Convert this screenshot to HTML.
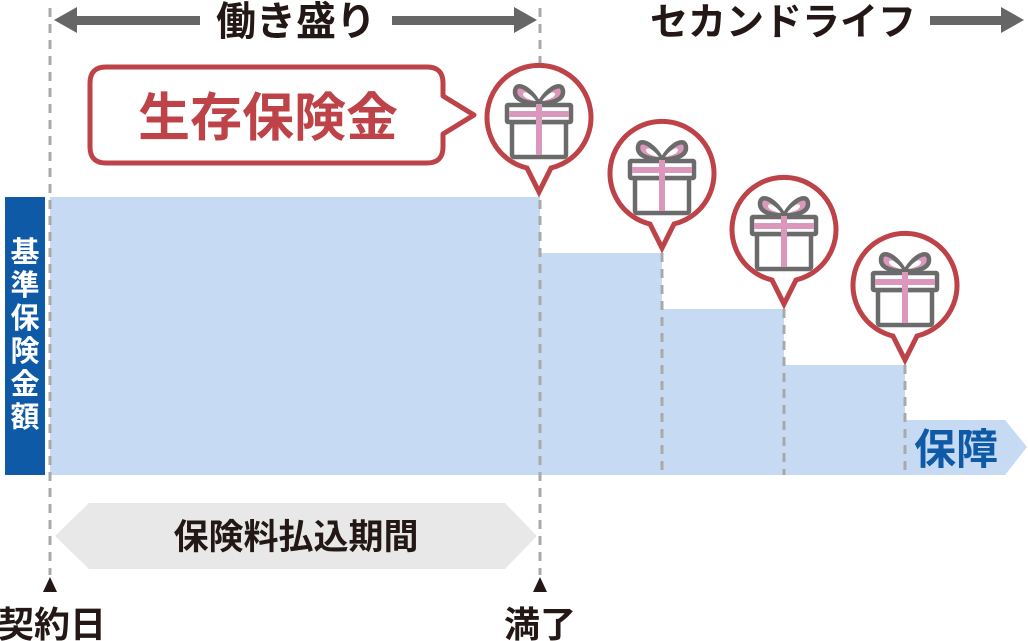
<!DOCTYPE html>
<html><head><meta charset="utf-8"><style>
html,body{margin:0;padding:0;background:#fff;}
svg{display:block;}
text{font-family:"Liberation Sans","Noto Sans CJK JP",sans-serif;font-weight:bold;}
</style></head><body>
<svg width="1028" height="641" viewBox="0 0 1028 641" xmlns="http://www.w3.org/2000/svg">
<defs>
<g id="gift">
  <path d="M0,-14 C-8,-30 -24,-38 -24,-26 C-24,-16 -8,-15 0,-14 C8,-15 24,-16 24,-26 C24,-38 8,-30 0,-14 Z" fill="#dc97bd" stroke="#6b6b6b" stroke-width="4.5" stroke-linejoin="round"/>
  <path d="M-3,-17 C-8,-24 -15,-28 -16,-24 C-16,-20 -8,-18 -3,-17Z M3,-17 C8,-24 15,-28 16,-24 C16,-20 8,-18 3,-17Z" fill="#fff"/>
  <rect x="-27" y="4" width="54" height="35" rx="2" fill="#fff" stroke="#6b6b6b" stroke-width="4.5"/>
  <rect x="-32" y="-13" width="64" height="17" rx="1" fill="#fff" stroke="#6b6b6b" stroke-width="4.5"/>
  <rect x="-3" y="-14" width="6" height="51" fill="#dc97bd"/>
  <rect x="-30" y="-7" width="60" height="6" fill="#dc97bd"/>
</g>
</defs>
<rect x="50" y="197" width="490" height="278" fill="#c6daf3"/>
<rect x="540" y="253" width="122" height="222" fill="#c6daf3"/>
<rect x="662" y="309" width="122" height="166" fill="#c6daf3"/>
<rect x="784" y="365" width="121" height="110" fill="#c6daf3"/>
<polygon points="905,420 1005,420 1027,447 1005,475 905,475" fill="#c6daf3"/>
<text x="956" y="464" font-size="42" fill="#0e5aa7" text-anchor="middle">保障</text>
<rect x="5" y="197" width="40" height="278" fill="#0e5aa7"/>
<g fill="#fff" font-size="29" text-anchor="middle">
<text x="25" y="262">基</text><text x="25" y="295">準</text><text x="25" y="328">保</text><text x="25" y="361">険</text><text x="25" y="394">金</text><text x="25" y="427">額</text>
</g>
<g stroke="#a9a9a9" stroke-width="3" stroke-dasharray="9,7" fill="none">
<line x1="50" y1="8" x2="50" y2="575"/>
<line x1="540" y1="8" x2="540" y2="575"/>
<line x1="662" y1="253" x2="662" y2="475"/>
<line x1="784" y1="309" x2="784" y2="475"/>
<line x1="905" y1="365" x2="905" y2="475"/>
</g>
<g fill="#666">
<rect x="75" y="16" width="125" height="9"/><polygon points="54,20 77,7 77,33"/>
<rect x="392" y="16" width="125" height="9"/><polygon points="537,20 514,7 514,33"/>
<rect x="930" y="16" width="75" height="9"/><polygon points="1024,20 1001,7 1001,33"/>
</g>
<text x="296" y="35" font-size="40" fill="#231815" text-anchor="middle">働き盛り</text>
<text x="783" y="35" font-size="38" fill="#231815" text-anchor="middle">セカンドライフ</text>
<path d="M106,67 H427 Q443,67 443,83 V96 L474,115 L443,134 V147 Q443,163 427,163 H106 Q90,163 90,147 V83 Q90,67 106,67 Z" fill="#fff" stroke="#bd4348" stroke-width="5" stroke-linejoin="round"/>
<text x="268" y="136" font-size="52" fill="#bd4348" text-anchor="middle">生存保険金</text>
<g fill="#fff" stroke="#bd4348" stroke-width="5" stroke-linejoin="miter">
<path d="M527,168 A52,52 0 1 1 551,168 L539,192 Z"/>
<path d="M650,224 A52,52 0 1 1 674,224 L662,248 Z"/>
<path d="M772,280 A52,52 0 1 1 796,280 L784,304 Z"/>
<path d="M893,336 A52,52 0 1 1 917,336 L905,360 Z"/>
</g>
<use href="#gift" transform="translate(539,118)"/>
<use href="#gift" transform="translate(662,174)"/>
<use href="#gift" transform="translate(784,230)"/>
<use href="#gift" transform="translate(905,286)"/>
<polygon points="55,536 89,503 505,503 537,536 505,569 89,569" fill="#e8e8e8"/>
<text x="296" y="549" font-size="35" fill="#231815" text-anchor="middle">保険料払込期間</text>
<polygon points="50,577 43,592 57,592" fill="#231815"/>
<polygon points="540,577 533,592 547,592" fill="#231815"/>
<text x="52" y="637" font-size="36" fill="#231815" text-anchor="middle">契約日</text>
<text x="540" y="637" font-size="36" fill="#231815" text-anchor="middle">満了</text>
</svg>
</body></html>
